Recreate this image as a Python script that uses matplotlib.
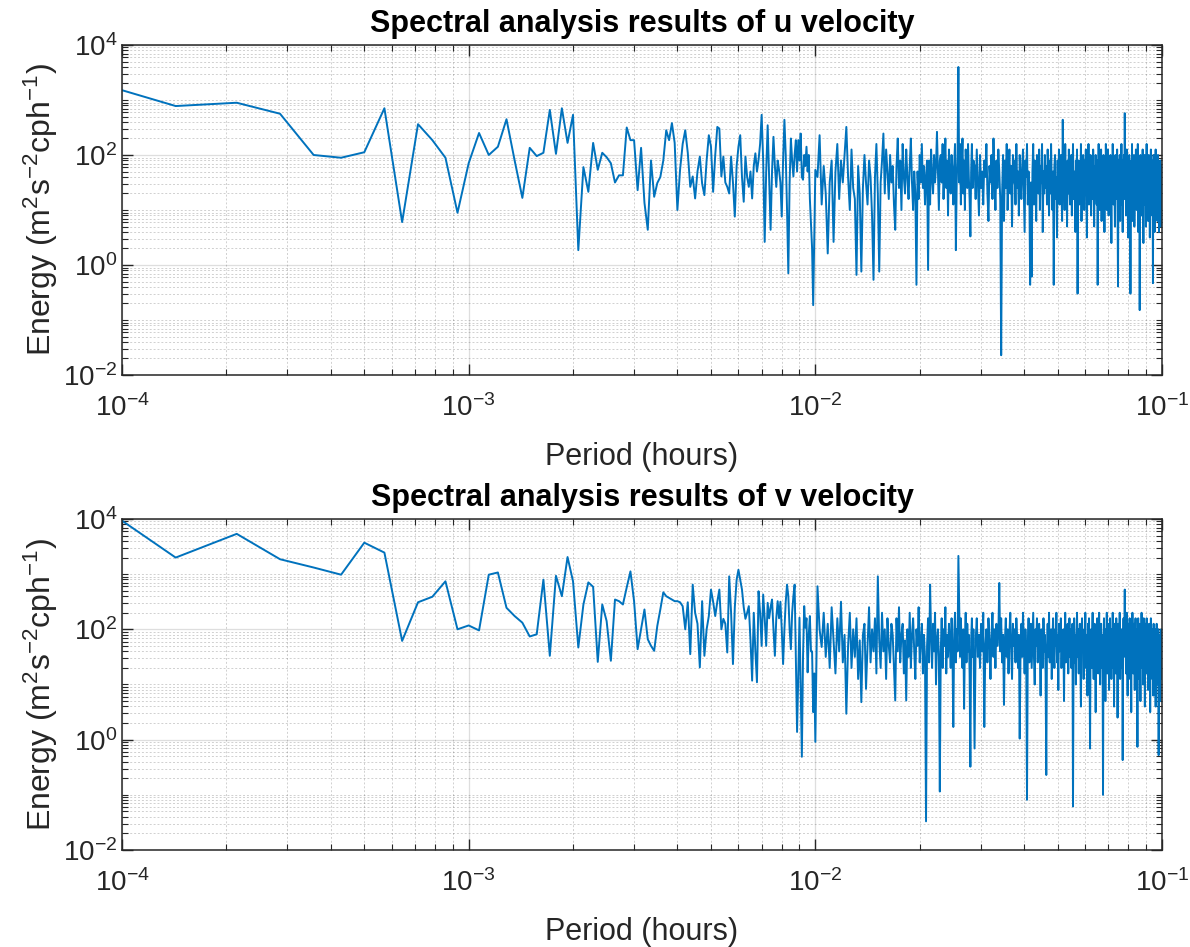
import numpy as np
import matplotlib.pyplot as plt
from matplotlib.ticker import LogLocator, NullFormatter

plt.rcParams['font.family'] = ['Liberation Sans', 'DejaVu Sans']
plt.rcParams['mathtext.fontset'] = 'custom'
plt.rcParams['mathtext.rm'] = 'Liberation Sans'
plt.rcParams['mathtext.it'] = 'Liberation Sans:italic'
plt.rcParams['mathtext.bf'] = 'Liberation Sans:bold'
plt.rcParams['axes.unicode_minus'] = False

# frequency resolution of the spectrum (one bin = 1/14000)
bin_width = 1 / 14000

# bin numbers: every bin up to 140, then every 2nd, then every 3rd
bins_a = np.arange(1, 141)
bins_b = np.arange(142, 401, 2)
bins_c = np.arange(403, 1405, 3)

# log10 energy, u velocity
u_log_a = [
    3.45, 2.89, 2.95, 2.75, 2.0, 1.95, 2.05, 2.85, 0.78, 2.56,
    2.27, 1.95, 0.95, 1.85, 2.4, 2.0, 2.15, 2.65, 1.9, 1.22,
    2.13, 1.98, 2.04, 2.82, 2.02, 2.85, 2.22, 2.73, 0.27, 1.78,
    1.33, 2.22, 1.73, 2.04, 1.96, 1.85, 1.5, 1.63, 1.63, 2.5,
    2.27, 2.27, 1.36, 2.13, 1.13, 0.64, 1.9, 1.24, 1.49, 1.6,
    1.9, 2.45, 2.27, 2.58, 2.22, 1.0, 1.73, 2.2, 2.45, 2.04,
    1.42, 1.61, 1.21, 1.7, 1.97, 1.48, 1.27, 1.9, 2.36, 2.15,
    1.33, 2.0, 2.51, 2.48, 1.61, 1.97, 1.5, 1.42, 1.30, 1.97,
    1.5, 0.88, 1.8, 2.15, 2.36, 1.6, 1.15, 1.97, 1.6, 1.42,
    1.7, 1.21, 1.8, 2.03, 1.7, 1.91, 2.2, 2.73, 1.9, 0.42,
    1.7, 2.54, 1.6, 0.64, 1.7, 2.33, 1.8, 1.42, 1.9, 1.73,
    1.5, 0.88, 1.9, 2.64, 2.0, 1.0, -0.15, 1.5, 2.30, 1.9,
    1.61, 2.0, 2.27, 1.7, 2.27, 1.9, 2.39, 1.6, 1.55, 2.0,
    1.8, 2.15, 1.7, 2.0, 1.2, 0.76, 0.3, -0.73, 0.5, 1.73,
]
u_log_b = [
    1.6, 2.36, 1.1, 1.8, 1.3, 0.21, 1.5, 1.9, 0.42, 1.7,
    2.2, 1.2, 1.9, 1.5, 2.0, 2.51, 1.6, 1.0, 2.1, 1.4,
    1.2, -0.18, 1.8, 1.3, -0.12, 1.4, 2.0, 1.5, 1.1, 1.9,
    1.6, 0.9, -0.27, 1.6, 2.2, 1.3, -0.12, 1.5, 1.9, 2.39,
    1.3, 2.1, 1.7, 1.2, 2.0, 1.5, 1.8, 1.1, 0.64, 1.8,
    2.3, 1.4, 1.9, 1.0, 2.2, 1.6, 1.3, 2.1, 1.6, 1.2,
    1.8, 2.3, 1.5, 1.0, 1.7, 1.3, -0.36, 1.7, 1.2, 2.0,
    1.5, 2.2, 1.4, 1.8, 1.1, 1.6, 1.9, -0.09, 1.9, 1.1,
    2.1, 1.6, 1.3, 2.0, 1.5, 1.8, 2.42, 1.7, 1.0, 1.9,
    2.0, 1.5, 2.2, 1.2, 1.8, 2.3, 1.4, 1.9, 0.9, 2.1,
    1.6, 1.3, 2.0, 1.7, 1.1, 1.8, 2.2, 0.27, 1.5, 2.0,
    3.6, 1.5, 2.2, 1.1, 1.8, 2.3, 1.3, 1.9, 1.0, 2.1,
    1.7, 1.4, 2.2, 1.6, 1.2, 0.52, 1.7, 2.2, 1.4, 1.9,
]
u_log_c = [
    1.8, 1.2, 2.1, 1.5, 0.9, 2.0, 1.4, 1.7, 1.1, 1.9,
    1.6, 2.2, 1.3, 0.8, 1.8, 1.5, 2.0, 1.2, 2.30, 1.6,
    1.0, 1.9, 1.4, 2.1, 1.7, 1.2, -1.64, 1.3, 2.0, 0.8,
    1.9, 1.4, 2.2, 1.0, 1.6, 2.1, 1.3, 1.8, 0.7, 2.0,
    1.5, 1.9, 1.1, 2.2, 1.4, 1.7, 0.9, 2.0, 1.5, 1.2,
    1.8, 2.1, 1.3, 0.6, 1.9, 1.6, 2.2, 1.1, 1.7, 1.4,
    -0.36, 1.5, -0.21, 1.7, 2.2, 1.1, 1.9, 1.4, 0.8, 2.0,
    1.6, 1.3, 2.1, 1.0, 1.8, 1.5, 2.2, 0.6, 1.7, 1.3,
    2.0, 1.4, 1.8, 1.1, 2.1, 1.6, 0.9, 1.9, 1.3, 2.2,
    1.5, 1.0, 1.7, -0.36, 1.8, 2.0, 1.2, 1.6, 0.5, 1.9,
    1.4, 2.1, 1.1, 1.7, 2.0, 1.3, 0.8, 2.64, 1.5, 1.8,
    1.0, 2.2, 1.4, 1.6, 0.7, 1.9, 1.3, 2.1, 1.5, 1.1,
    1.8, 2.0, 0.9, 1.6, 2.2, 1.2, 1.7, 1.4, 0.6, 1.9,
    1.5, 2.1, -0.52, 1.6, 1.9, 1.1, 1.8, 1.4, 2.2, 0.8,
    1.7, 1.3, 2.0, 1.5, 1.0, 1.9, 1.6, 2.1, 1.2, 0.5,
    1.8, 1.4, 2.2, 1.1, 1.7, 1.5, 2.0, 0.9, 1.6, 1.9,
    1.2, 2.1, 1.5, 0.7, 1.8, 1.3, 2.0, 1.6, 1.1, 1.9,
    -0.36, 1.7, 2.2, 1.4, 1.0, 1.8, 1.5, 2.1, 0.8, 1.6,
    1.9, 1.3, 2.0, 1.6, 0.6, 1.8, 1.2, 2.2, 1.5, 1.0,
    1.7, 2.1, 1.4, 0.9, 1.9, 1.6, 1.2, 2.0, 1.5, 0.4,
    1.8, 1.3, 2.2, 1.6, 1.1, 1.9, 1.4, 0.7, 2.0, 1.5,
    1.2, 1.8, 2.1, 1.0, -0.39, 1.6, 1.9, 1.3, 2.0, 0.8,
    1.7, 1.4, 2.2, 1.1, 1.6, 0.6, 1.9, 1.5, 2.0, 1.2,
    2.76, 1.4, 1.8, 0.9, 1.6, 2.1, 1.3, 1.7, 0.5, 1.9,
    1.5, 2.0, 1.1, 1.7, -0.52, 1.4, 1.9, 1.2, 2.2, 0.8,
    1.6, 1.8, 1.3, 2.0, 0.7, 1.5, 1.9, 1.1, 2.1, 1.4,
    1.0, 1.8, 1.6, 2.2, 0.6, 1.7, 1.3, 1.9, -0.82, 1.5,
    2.0, 1.2, 1.7, 0.9, 1.9, 1.4, 2.1, 1.6, 0.4, 1.8,
    1.3, 2.0, 1.5, 1.1, 1.9, 0.7, 1.7, 2.2, 1.2, 1.6,
    1.9, 0.8, 1.5, 2.0, 1.3, 1.7, 0.5, 1.8, 1.4, 2.1,
    1.1, 1.6, 1.9, 0.9, 1.5, -0.33, 1.7, 2.0, 1.2, 1.8,
    0.6, 1.6, 1.3, 2.1, 1.0, 1.7, 1.4, 1.9, 0.8, 1.5,
    2.0, 1.2, 1.7, 0.6, 1.8, 1.4, 1.1, 1.9, 0.7, 1.5,
    1.2, 1.8, 0.9, 1.4,
]

# log10 energy, v velocity
v_log_a = [
    4.6, 3.30, 3.73, 3.27, 3.12, 2.99, 3.57, 3.39, 1.79, 2.49,
    2.59, 2.87, 2.0, 2.07, 1.98, 2.99, 3.03, 2.39, 2.24, 2.12,
    1.87, 1.91, 2.90, 1.52, 2.97, 2.60, 3.31, 2.87, 1.67, 2.45,
    2.85, 2.77, 1.41, 2.45, 2.15, 1.43, 2.54, 2.51, 2.45, 2.76,
    3.05, 2.51, 1.64, 2.0, 2.36, 1.82, 1.70, 1.61, 2.06, 2.36,
    2.67, 2.60, 2.57, 2.54, 2.51, 2.51, 2.49, 2.42, 2.0, 2.49,
    1.55, 2.81, 2.3, 2.1, 1.31, 2.51, 1.52, 2.0, 2.24, 2.72,
    2.5, 2.24, 2.5, 2.72, 2.0, 2.19, 2.1, 1.58, 2.96, 2.3,
    1.37, 2.4, 2.90, 3.08, 2.9, 2.72, 2.4, 2.19, 2.3, 2.42,
    1.8, 1.07, 2.30, 1.6, 1.04, 2.69, 2.3, 1.70, 2.63, 2.2,
    1.70, 2.48, 2.2, 2.4, 2.54, 2.0, 1.52, 2.2, 2.51, 2.2,
    2.5, 2.0, 1.37, 2.0, 2.5, 2.81, 2.6, 2.0, 1.64, 2.3,
    2.6, 2.81, 1.5, 0.14, 1.2, 2.21, 1.0, -0.31, 1.5, 2.42,
    2.03, 2.2, 1.22, 1.9, 2.24, 1.6, 1.6, 0.5, 1.2, -0.04,
]
v_log_b = [
    2.78, 2.0, 1.68, 2.3, 1.5, 2.1, 1.3, 2.4, 1.8, 1.2,
    2.2, 1.6, 2.5, 1.4, 1.9, 0.47, 1.7, 2.3, 1.3, 2.0,
    1.5, 2.2, 1.1, 1.8, 0.68, 1.9, 2.1, 0.92, 1.7, 2.4,
    1.4, 2.0, 1.6, 2.2, 1.2, 2.96, 1.8, 1.3, 2.3, 1.6,
    2.0, 1.1, 2.2, 1.7, 1.4, 2.1, 1.9, 1.3, 0.71, 2.2,
    1.6, 2.4, 1.4, 1.9, 2.1, 1.2, 1.8, 0.71, 2.0, 1.5,
    2.3, 1.3, 1.9, 2.2, 1.6, 1.1, 2.0, 1.7, 2.4, 1.4,
    1.8, 2.1, 1.2, 1.9, 1.5, -1.48, 1.7, 2.2, 1.4, 2.81,
    1.9, 1.3, 2.1, 1.6, 2.3, 1.0, 1.8, 2.0, 1.5, -0.94,
    1.6, 2.2, 1.3, 2.0, 1.7, 2.4, 1.2, 1.9, 1.5, 2.1,
    1.8, 1.3, 2.2, 1.6, 0.23, 1.9, 2.3, 1.4, 2.0, 1.6,
    3.33, 2.4, 1.5, 2.2, 1.7, 1.3, 2.0, 0.56, 1.8, 2.3,
    1.4, 2.1, 1.6, 1.9, 1.2, -0.49, 1.8, 2.2, 1.5, 2.0,
]
v_log_c = [
    -0.16, 1.8, 2.2, 1.5, 1.9, 1.3, 2.1, 1.6, 2.3, 0.23,
    1.7, 2.0, 1.4, 2.2, 1.8, 1.1, 1.9, 2.3, 1.5, 2.0,
    1.3, 2.1, 1.7, 1.9, 2.84, 1.6, 2.2, 1.4, 1.9, 0.63,
    1.8, 2.2, 1.5, 2.0, 1.2, 1.9, 2.3, 1.6, 1.1, 2.1,
    1.7, 2.0, 1.4, 2.2, 1.8, 1.3, 1.9, 0.02, 1.6, 2.1,
    1.5, 2.3, 1.8, 1.2, 2.0, 1.6, -1.09, 1.7, 2.2, 1.4,
    1.9, 2.1, 1.3, 1.8, 2.3, 1.5, 1.0, 2.0, 1.7, 2.2,
    1.4, 1.9, 2.1, 1.6, 0.8, 2.0, 1.8, 1.3, 2.2, 1.6,
    1.9, 1.2, -0.64, 1.7, 2.1, 1.5, 2.3, 1.4, 1.9, 2.0,
    1.1, 1.8, 2.2, 1.6, 1.3, 2.0, 1.7, 2.3, 1.4, 1.9,
    0.9, 2.1, 1.6, 1.8, 2.2, 1.3, 1.9, 1.5, 2.0, 0.7,
    1.8, 2.3, 1.4, 1.9, 1.6, 2.1, 1.2, 1.8, 2.2, 1.5,
    2.0, 1.3, 1.7, 2.1, -1.21, 1.6, 2.2, 1.4, 1.9, 1.0,
    1.8, 2.3, 1.5, 2.0, 1.2, 1.7, 2.1, 1.4, 0.6, 1.9,
    2.2, 1.6, 1.8, 1.1, 2.0, 1.5, 2.3, 1.3, 1.9, 1.7,
    0.8, 2.1, 1.6, 2.2, 1.4, -0.16, 1.8, 2.0, 1.3, 1.9,
    2.3, 1.5, 1.1, 1.8, 2.1, 1.6, 0.5, 2.0, 1.4, 2.2,
    1.7, 1.2, 1.9, 2.3, 1.5, 1.0, 1.8, 2.1, 1.3, 1.9,
    1.6, -1.0, 1.7, 2.2, 1.4, 1.9, 0.7, 2.0, 1.5, 2.3,
    1.2, 1.8, 2.1, 1.6, 0.9, 1.9, 2.2, 1.4, 1.7, 1.1,
    2.0, 1.5, 2.3, 1.3, 1.8, 0.6, 2.1, 1.6, 1.9, 1.2,
    2.2, 1.5, 1.8, 0.4, 1.9, 2.1, 1.4, 1.7, 2.3, 1.1,
    1.8, 1.6, 2.0, 1.3, 1.9, -0.37, 1.7, 2.2, 1.5, 1.9,
    2.72, 1.6, 2.0, 1.2, 1.8, 2.3, 1.4, 0.8, 1.9, 2.1,
    1.5, 1.7, 2.2, 1.1, 1.9, 1.6, 0.5, 2.0, 1.4, 2.3,
    1.7, 1.2, 1.9, 2.1, 1.5, 0.9, 1.8, 2.2, 1.3, 1.7,
    2.0, 1.4, -0.13, 1.9, 2.2, 1.6, 1.1, 1.8, 2.1, 1.4,
    0.7, 1.9, 1.6, 2.3, 1.3, 1.8, 2.0, 1.0, 1.7, 2.2,
    1.5, 1.9, 0.6, 1.7, 2.1, 1.4, 1.8, 2.2, 1.2, 1.6,
    2.0, 0.9, 1.8, 1.5, 2.1, 1.3, 1.9, 0.5, 1.7, 2.2,
    1.4, 1.8, 2.0, 1.1, 1.6, 1.9, 0.8, 2.1, 1.5, 1.7,
    1.2, 2.0, 1.6, 0.6, 1.9, 1.4, 2.1, 1.7, 1.0, 1.8,
    1.5, 2.0, -0.28, 1.6, 1.9, 1.2, 1.7, 0.7, 1.8, 1.4,
    2.0, 1.1, 1.6, 1.3,
]

LINE_COLOR = '#0072BD'
AXIS_COLOR = '#262626'


def style_axes(ax, title):
    ax.set_xscale('log')
    ax.set_yscale('log')
    ax.set_xlim(1e-4, 1e-1)
    ax.set_ylim(1e-2, 1e4)
    ax.set_xticks([1e-4, 1e-3, 1e-2, 1e-1])
    ax.set_yticks([1e-2, 1e0, 1e2, 1e4])
    ax.xaxis.set_minor_locator(LogLocator(base=10, subs=np.arange(2, 10), numticks=20))
    ax.yaxis.set_minor_locator(LogLocator(base=10, subs=np.arange(1, 10), numticks=20))
    ax.xaxis.set_minor_formatter(NullFormatter())
    ax.yaxis.set_minor_formatter(NullFormatter())
    ax.grid(which='major', color=AXIS_COLOR, alpha=0.15, lw=0.9)
    ax.grid(which='minor', color=AXIS_COLOR, alpha=0.22, lw=0.7, ls=(0, (2, 2)))
    ax.set_axisbelow(True)
    ax.tick_params(which='both', direction='in', top=True, right=True,
                   colors=AXIS_COLOR, labelsize=20)
    ax.tick_params(which='major', length=8, width=1)
    ax.tick_params(which='minor', length=4, width=0.8)
    ax.tick_params(axis='x', pad=14)
    for sp in ax.spines.values():
        sp.set_color(AXIS_COLOR)
        sp.set_linewidth(1.1)
    ax.set_xlabel('Period (hours)', fontsize=22, color=AXIS_COLOR, labelpad=14)
    ax.set_ylabel('Energy (m$^2$s$^{-2}$cph$^{-1}$)', fontsize=23,
                  color=AXIS_COLOR, labelpad=2)
    ax.set_title(title, fontsize=22, fontweight='bold', pad=9)


freq = np.concatenate([bins_a, bins_b, bins_c]) * bin_width
u_energy = 10.0 ** np.concatenate([u_log_a, u_log_b, u_log_c])
v_energy = 10.0 ** np.concatenate([v_log_a, v_log_b, v_log_c])

fig = plt.figure(figsize=(11.9, 9.47), dpi=100)
ax_u = fig.add_axes([0.1025, 0.604, 0.874, 0.3485])
ax_v = fig.add_axes([0.1025, 0.1024, 0.874, 0.3496])

ax_u.plot(freq, u_energy, color=LINE_COLOR, lw=1.4)
ax_v.plot(freq, v_energy, color=LINE_COLOR, lw=1.4)
style_axes(ax_u, 'Spectral analysis results of u velocity')
style_axes(ax_v, 'Spectral analysis results of v velocity')

fig.savefig('out.png', dpi=100)
